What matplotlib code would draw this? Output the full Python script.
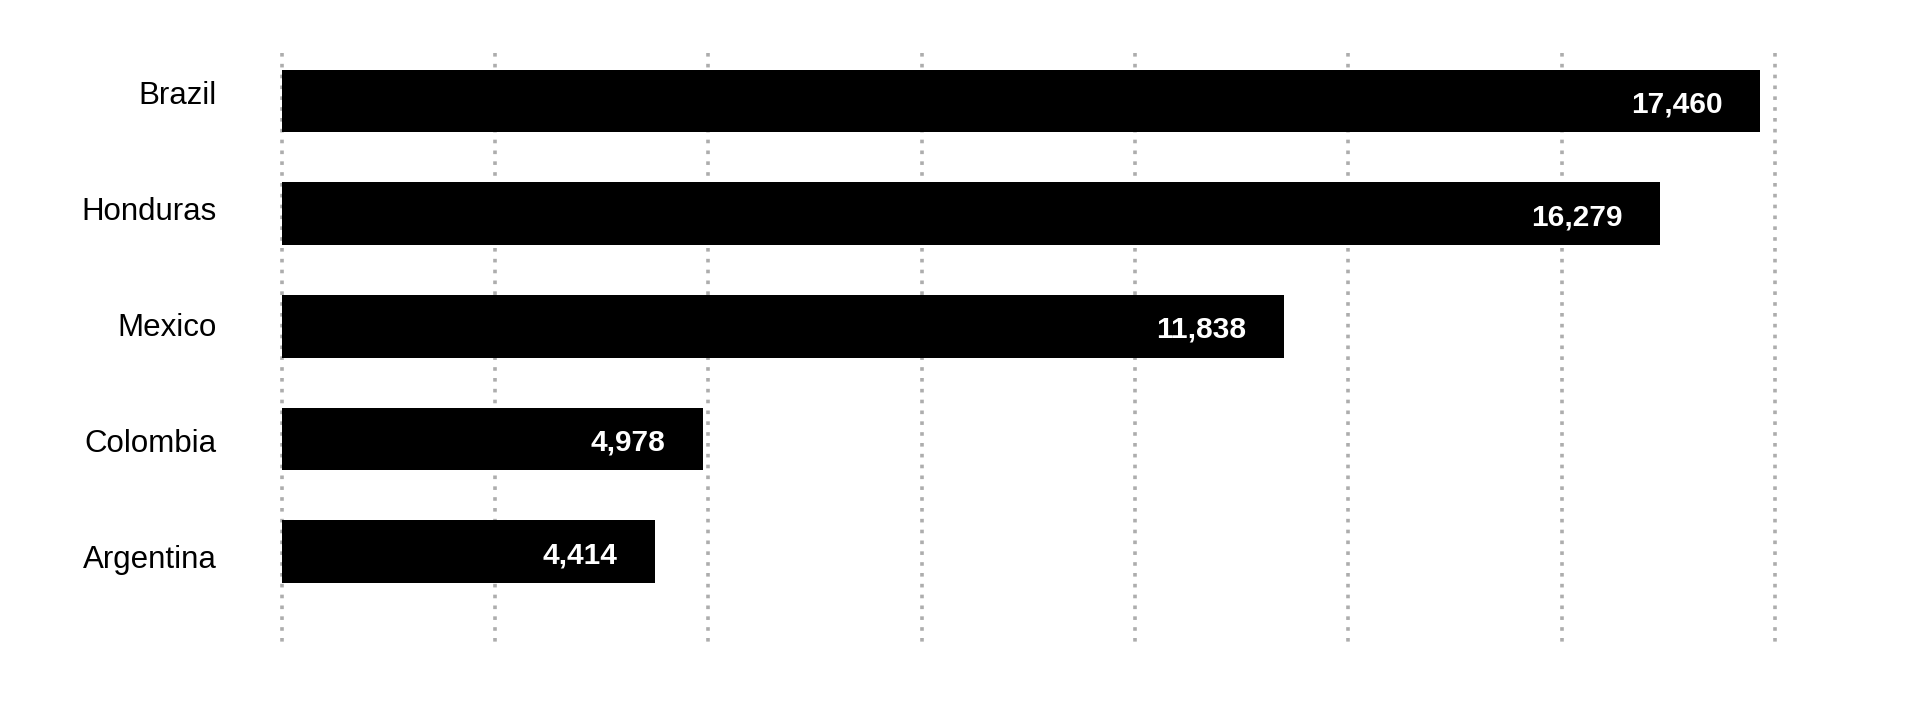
import numpy as np
import matplotlib
matplotlib.use("Agg")
from matplotlib import pyplot as plt

# maat ja arvot
countries = ["Brazil", "Honduras", "Mexico", "Colombia", "Argentina"]
values = [17460, 16279, 11838, 4978, 4414]
value_labels = ["17,460", "16,279", "11,838", "4,978", "4,414"]

X_MAX = 17632
N_GRID = 8

plt.rcParams["font.family"] = ["Liberation Sans", "DejaVu Sans"]

fig = plt.figure(figsize=(19.2, 7.19), dpi=100)
W, H = 1920, 719
# akselit pikseleinä: vasen 281.6, oikea 1775, ylä 53.3, ala 646.7
ax = fig.add_axes([281.6 / W, (H - 646.7) / H, (1775 - 281.6) / W, (646.7 - 53.3) / H])

y = np.arange(len(countries))
ax.set_xlim(0, X_MAX)
ax.set_ylim(4.843, -0.423)

# pystysuorat pisteviivat, alkavat ylhäältä
grid_x = np.linspace(0, X_MAX, N_GRID)
ax.vlines(grid_x, -0.423, 4.843, colors="#adadad", linewidth=2.6,
          linestyles=(0, (1, 2.0)), capstyle="butt", clip_on=False, zorder=1)

ax.barh(y, values, height=0.554, color="black", zorder=2)

for i in range(len(countries)):
    ax.text(values[i] - 450, y[i] + 0.102, value_labels[i], color="white",
            fontsize=21.5, fontweight="bold", ha="right", va="baseline", zorder=3)
    # nimet on hieman eri välein kuin palkit
    ly = i * 1.0273 - 0.071
    ax.text(-770, ly + 0.102, countries[i], color="black", fontsize=22.5,
            ha="right", va="baseline", clip_on=False)

ax.set_axis_off()

fig.savefig("out.png", dpi=100, facecolor="white")
